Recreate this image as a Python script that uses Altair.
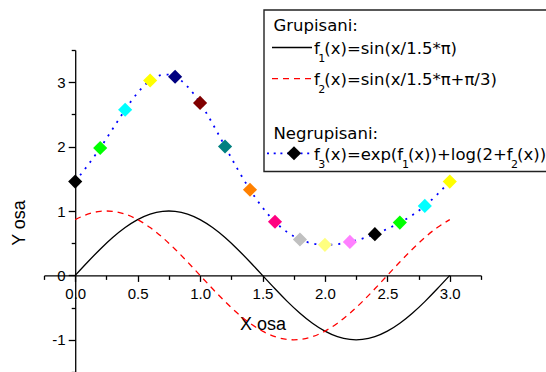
import altair as alt
import pandas as pd

# ---- data -------------------------------------------------------------
# smooth curves, sampled every 0.1
x_curve = [0.0, 0.1, 0.2, 0.3, 0.4, 0.5, 0.6, 0.7, 0.8, 0.9, 1.0,
           1.1, 1.2, 1.3, 1.4, 1.5, 1.6, 1.7, 1.8, 1.9, 2.0,
           2.1, 2.2, 2.3, 2.4, 2.5, 2.6, 2.7, 2.8, 2.9, 3.0]
f1_vals = [0.0, 0.2079, 0.4067, 0.5878, 0.7431, 0.8660, 0.9511, 0.9945, 0.9945, 0.9511, 0.8660,
           0.7431, 0.5878, 0.4067, 0.2079, 0.0, -0.2079, -0.4067, -0.5878, -0.7431, -0.8660,
           -0.9511, -0.9945, -0.9945, -0.9511, -0.8660, -0.7431, -0.5878, -0.4067, -0.2079, 0.0]
f2_vals = [0.8660, 0.9511, 0.9945, 0.9945, 0.9511, 0.8660, 0.7431, 0.5878, 0.4067, 0.2079, 0.0,
           -0.2079, -0.4067, -0.5878, -0.7431, -0.8660, -0.9511, -0.9945, -0.9945, -0.9511, -0.8660,
           -0.7431, -0.5878, -0.4067, -0.2079, 0.0, 0.2079, 0.4067, 0.5878, 0.7431, 0.8660]

# ungrouped points, every 0.2
x_pts = [0.0, 0.2, 0.4, 0.6, 0.8, 1.0, 1.2, 1.4, 1.6, 1.8, 2.0, 2.2, 2.4, 2.6, 2.8, 3.0]
f3_vals = [1.457, 1.978, 2.573, 3.027, 3.085, 2.678, 2.002, 1.330,
           0.833, 0.558, 0.475, 0.520, 0.640, 0.820, 1.079, 1.457]
pt_colors = ["#000000", "#00FF00", "#00FFFF", "#FFFF00", "#000080", "#800000",
             "#008080", "#FF8000", "#FF0080", "#C0C0C0", "#FFFF80", "#FF80FF",
             "#000000", "#00FF00", "#00FFFF", "#FFFF00"]

x_ticks = [-0.25, 0.0, 0.25, 0.5, 0.75, 1.0, 1.25, 1.5, 1.75, 2.0, 2.25, 2.5, 2.75, 3.0, 3.25]
y_ticks = [-1.5, -1.0, -0.5, 0.0, 0.5, 1.0, 1.5, 2.0, 2.5, 3.0, 3.5]

curves = pd.DataFrame({"x": x_curve, "f1": f1_vals, "f2": f2_vals})
points = pd.DataFrame({"x": x_pts, "y": f3_vals, "c": pt_colors})
one = pd.DataFrame({"k": [0]})

# ---- layout -----------------------------------------------------------
W, H = 437, 322
PAD_L, PAD_T = 44, 50
X_DOM, Y_DOM = [-0.25, 3.25], [-1.5, 3.5]
x_zero_px = (0 - X_DOM[0]) / (X_DOM[1] - X_DOM[0]) * W
y_zero_px = (Y_DOM[1] - 0) / (Y_DOM[1] - Y_DOM[0]) * H

TICK_FONT = "Liberation Sans"
LEG_FONT = "DejaVu Sans"

x_scale = alt.Scale(domain=X_DOM, nice=False, zero=False)
y_scale = alt.Scale(domain=Y_DOM, nice=False, zero=False)

# axes cross at the origin: shift them inward with a negative offset
x_axis = alt.Axis(
    values=x_ticks, offset=-(H - y_zero_px), grid=False,
    domainColor="black", domainWidth=1.3, tickColor="black", tickWidth=1.3,
    tickSize={"condition": {"test": "abs(datum.value*2 - round(datum.value*2)) < 0.001", "value": 6}, "value": 4},
    labelExpr="(datum.value >= 0 && datum.value <= 3 && abs(datum.value*2 - round(datum.value*2)) < 0.001) ? format(datum.value, '.1f') : ''",
    labelFont=TICK_FONT, labelFontSize=15, labelColor="black", labelPadding=5,
    labelOverlap=False, labelFlush=False,
    title="X osa", titleFont=TICK_FONT, titleFontSize=18, titleFontWeight="normal",
    titleColor="black", titleBaseline="alphabetic", titleY=54,
)
y_axis = alt.Axis(
    values=y_ticks, offset=-x_zero_px, grid=False,
    domainColor="black", domainWidth=1.3, tickColor="black", tickWidth=1.3,
    tickSize={"condition": {"test": "datum.value % 1 == 0", "value": 7}, "value": 4},
    labelExpr="datum.value % 1 == 0 ? '' + datum.value : ''",
    labelFont=TICK_FONT, labelFontSize=15, labelColor="black", labelPadding=3,
    labelOverlap=False, labelFlush=False,
    title="Y osa", titleFont=TICK_FONT, titleFontSize=18, titleFontWeight="normal",
    titleColor="black", titleAngle=270, titleBaseline="alphabetic", titleAlign="center",
    titleX=-51, titleY=172.5,
)


def enc_x(field):
    return alt.X(field, type="quantitative", scale=x_scale, axis=x_axis)


def enc_y(field):
    return alt.Y(field, type="quantitative", scale=y_scale, axis=y_axis)


# ---- data layers ------------------------------------------------------
f1_line = alt.Chart(curves).mark_line(color="black", strokeWidth=1.3, interpolate="natural").encode(
    x=enc_x("x"), y=enc_y("f1"),
)
f2_line = alt.Chart(curves).mark_line(color="#FF0000", strokeWidth=1.3, strokeDash=[6, 5],
                                      interpolate="natural").encode(
    x=enc_x("x"), y=enc_y("f2"),
)
f3_line = alt.Chart(points).mark_line(color="#0000FF", strokeWidth=1.8, strokeDash=[2, 6],
                                      interpolate="natural").encode(
    x=enc_x("x"), y=enc_y("y"),
)
f3_pts = alt.Chart(points).mark_point(shape="diamond", filled=True, size=200, opacity=1).encode(
    x=enc_x("x"), y=enc_y("y"),
    color=alt.Color("c:N", scale=None),
)

# ---- legend box (page pixels shifted to the plot origin) ---------------
def px(v):
    return alt.value(v - PAD_L)


def py(v):
    return alt.value(v - PAD_T)


legend_box = alt.Chart(one).mark_rect(fill="white", stroke="#222222", strokeWidth=1.4).encode(
    x=px(264), x2=px(549), y=py(10), y2=py(171.5)
)


def sample_line(x0, x1, y, **style):
    return alt.Chart(one).mark_rule(**style).encode(x=px(x0), x2=px(x1), y=py(y))


leg_l1 = sample_line(272, 312, 47.5, color="black", strokeWidth=1.3)
leg_l2 = sample_line(272, 312, 78.7, color="#FF0000", strokeWidth=1.3, strokeDash=[6, 5])
leg_l3 = sample_line(267, 312, 153.3, color="#0000FF", strokeWidth=1.8, strokeDash=[2, 4.7])
leg_pt = alt.Chart(one).mark_point(shape="diamond", filled=True, size=200, opacity=1,
                                   color="black").encode(x=px(294), y=py(153.3))

# DejaVu Sans advance widths (em units) for laying out subscripted text
ADV = {"(": 0.390, ")": 0.390, "x": 0.592, "=": 0.838, "e": 0.615, "p": 0.635,
       "+": 0.838, "l": 0.278, "o": 0.612, "g": 0.635, "2": 0.636, "s": 0.521,
       "i": 0.278, "n": 0.634, "/": 0.337, "1": 0.636, ".": 0.318, "5": 0.636,
       "*": 0.500, "π": 0.602, "f": 0.352, "3": 0.636}
MAIN, SUB = 16.5, 11


def text_w(s, size):
    return sum(ADV.get(ch, 0.6) for ch in s) * size


def txt(s, x, y, size):
    return alt.Chart(one).mark_text(text=s, align="left", baseline="alphabetic", font=LEG_FONT,
                                    fontSize=size, color="black").encode(x=px(x), y=py(y))


def rich(pieces, x0, base):
    out, cur = [], x0
    for s, sub in pieces:
        if sub:
            out.append(txt(s, cur - 1.5, base + 8.0, SUB))
            cur += text_w(s, SUB) - 2.5
        else:
            out.append(txt(s, cur, base, MAIN))
            cur += text_w(s, MAIN)
    return out


legend_text = [txt("Grupisani:", 273.5, 31, MAIN), txt("Negrupisani:", 273.5, 139, MAIN)]
legend_text += rich([("f", False), ("1", True), ("(x)=sin(x/1.5*π)", False)], 314, 54)
legend_text += rich([("f", False), ("2", True), ("(x)=sin(x/1.5*π+π/3)", False)], 314, 85.2)
legend_text += rich([("f", False), ("3", True), ("(x)=exp(f", False), ("1", True),
                     ("(x))+log(2+f", False), ("2", True), ("(x))", False)], 314, 159.8)

chart = alt.layer(
    f1_line, f2_line, f3_line, f3_pts,
    legend_box, leg_l1, leg_l2, leg_l3, leg_pt, *legend_text,
).properties(
    width=W, height=H,
    padding={"left": PAD_L, "top": PAD_T, "right": 546 - PAD_L - W, "bottom": 372 - PAD_T - H},
    autosize=alt.AutoSizeParams(type="none"),
    background="white",
).configure_view(stroke=None)

chart.save("out.html", embed_options={"renderer": "svg", "actions": False})
